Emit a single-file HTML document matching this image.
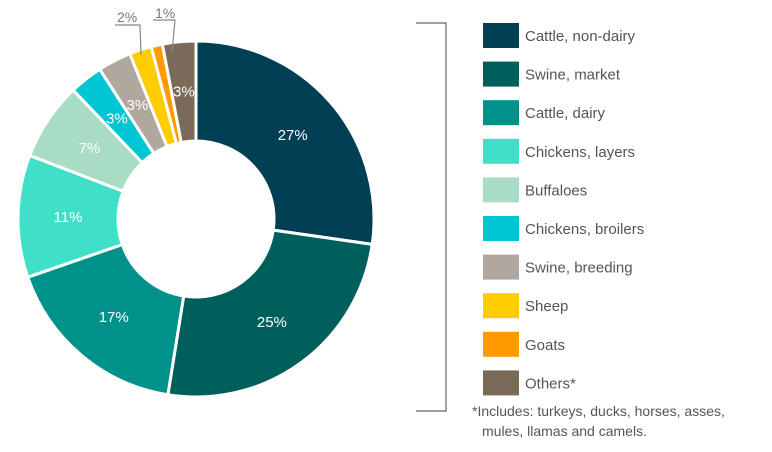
<!DOCTYPE html>
<html><head><meta charset="utf-8"><style>
body{margin:0;background:#fff;width:772px;height:447px;overflow:hidden;font-family:"Liberation Sans",sans-serif}
</style></head><body>
<svg width="772" height="447">
<g id="slices"></g>
<g id="labels"></g>
<g fill="none" stroke="#888" stroke-width="1.2">
<path d="M115 25 H140 L141 55"/>
<path d="M153 20 H175 L172 52"/>
</g>
<text x="117" y="22" font-size="14" fill="#777">2%</text>
<text x="155" y="18" font-size="14" fill="#777">1%</text>
<path d="M416 23 H446 V411 H416" fill="none" stroke="#666" stroke-width="1.2"/>
<g id="legend"></g>
<text x="472" y="416" font-size="14" fill="#555">*Includes: turkeys, ducks, horses, asses,</text>
<text x="482" y="436" font-size="14" fill="#555">mules, llamas and camels.</text>
</svg>
<script>
const categories=["Cattle, non-dairy","Swine, market","Cattle, dairy","Chickens, layers","Buffaloes","Chickens, broilers","Swine, breeding","Sheep","Goats","Others*"];
const values=[27,25,17,11,7,3,3,2,1,3];
const colors=["#003f54","#005f5a","#00918a","#40e0c8","#a8dcc4","#00c6d4","#b0a89e","#ffcc00","#ff9900","#7a6a5a"];
const showLabel=[true,true,true,true,true,true,true,false,false,true];
const NS="http://www.w3.org/2000/svg";
const cx=196,cy=219,R=178,r=78;
const total=values.reduce((a,b)=>a+b,0);
function pt(rad,a){return [cx+rad*Math.sin(a),cy-rad*Math.cos(a)];}
const sg=document.getElementById('slices'),lg=document.getElementById('labels'),leg=document.getElementById('legend');
let a0=0;
values.forEach((v,i)=>{
 const a1=a0+v/total*2*Math.PI;
 const p1=pt(R,a0),p2=pt(R,a1),p3=pt(r,a1),p4=pt(r,a0);
 const lf=(a1-a0)>Math.PI?1:0;
 const p=document.createElementNS(NS,'path');
 p.setAttribute('d',`M${p1} A${R} ${R} 0 ${lf} 1 ${p2} L${p3} A${r} ${r} 0 ${lf} 0 ${p4}Z`);
 p.setAttribute('fill',colors[i]);p.setAttribute('stroke','#fff');p.setAttribute('stroke-width','3');
 
 
 sg.appendChild(p);
 if(showLabel[i]){
  const m=pt(128,(a0+a1)/2);
  const t=document.createElementNS(NS,'text');
  t.setAttribute('x',m[0]);t.setAttribute('y',m[1]+5);t.setAttribute('text-anchor','middle');
  t.setAttribute('font-size','15');t.setAttribute('fill',i==4||i==6?'#fff':'#fff');
  t.textContent=v+'%';
  
  
  lg.appendChild(t);
 }
 a0=a1;
 const y=23+i*38.6;
 const s=document.createElementNS(NS,'rect');
 s.setAttribute('x',483);s.setAttribute('y',y);s.setAttribute('width',36);s.setAttribute('height',25);s.setAttribute('fill',colors[i]);
 
 
 leg.appendChild(s);
 const t=document.createElementNS(NS,'text');
 t.setAttribute('x',525);t.setAttribute('y',y+18);t.setAttribute('font-size','15');t.setAttribute('fill','#555');
 t.textContent=categories[i];
 
 
 leg.appendChild(t);
});
</script>
</body></html>
